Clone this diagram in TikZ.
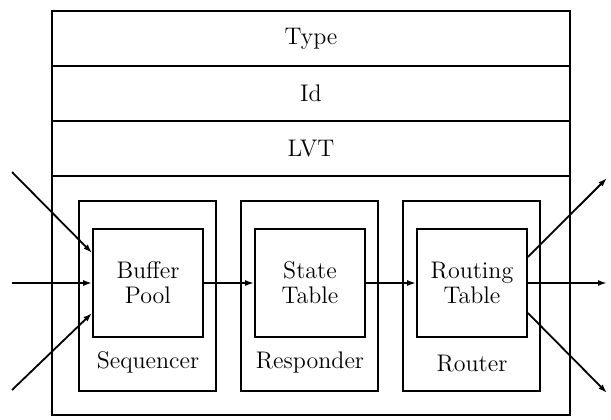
\documentclass[tikz,border=0pt]{standalone}
\usetikzlibrary{arrows.meta,positioning}

\tikzset{
  field/.style={draw, minimum width=259pt, minimum height=27.5pt, inner sep=0pt},
  module/.style={draw, minimum width=68.5pt, minimum height=95pt, inner sep=0pt},
  table/.style={draw, minimum width=55pt, minimum height=54pt, inner sep=0pt, align=center},
  arr/.style={-{Latex[length=4.5pt,width=3pt]}},
}

\begin{document}
\begin{tikzpicture}[x=0.5pt, y=-0.5pt, line width=0.9pt,
    font=\fontsize{12pt}{12.5pt}\selectfont]
  \useasboundingbox (0,0) rectangle (611,419);

  % header fields and body
  \node[field] (type) at (311,38.5)  {Type};
  \node[field] (id)   at (311,93.5)  {Id};
  \node[field] (lvt)  at (311,148.5) {LVT};
  \node[draw, minimum width=259pt, minimum height=119.5pt] (body) at (311,295.5) {};

  % the three stages
  \node[module] (seq)  at (147.5,296) {};
  \node[module] (resp) at (309.5,296) {};
  \node[module] (rout) at (471.5,296) {};

  \node[table] (pool)    at (148,283) {Buffer\\Pool};
  \node[table] (state)   at (310,283) {State\\Table};
  \node[table] (routing) at (472,283) {Routing\\Table};

  \node (seqlbl)  at (148,362) {Sequencer};
  \node (resplbl) at (310,362) {Responder};
  \node (routlbl) at (472,364) {Router};

  % inputs
  \coordinate (inA) at (12,172);
  \coordinate (inB) at (12,283);
  \coordinate (inC) at (12,390);
  \draw[arr] (inA) -- ([yshift=15pt]pool.west);
  \draw[arr] (inB) -- (pool.west);
  \draw[arr] (inC) -- ([yshift=-15pt]pool.west);

  \draw[arr] (pool) -- (state);
  \draw[arr] (state) -- (routing);

  % outputs
  \coordinate (outA) at (607,178);
  \coordinate (outB) at (607,283);
  \coordinate (outC) at (607,393);
  \draw[arr] ([yshift=13pt]routing.east) -- (outA);
  \draw[arr] (routing.east) -- (outB);
  \draw[arr] ([yshift=-15pt]routing.east) -- (outC);
\end{tikzpicture}
\end{document}
